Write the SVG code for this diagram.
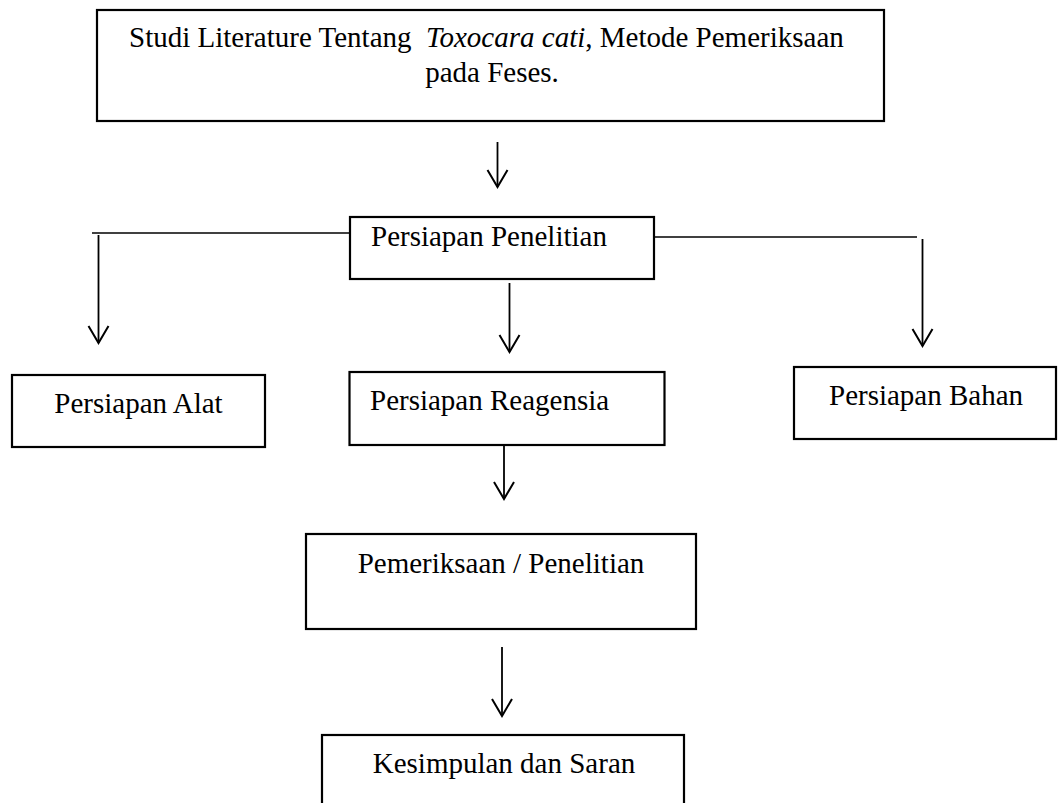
<svg xmlns="http://www.w3.org/2000/svg" width="1058" height="803" viewBox="0 0 1058 803">
  <style>
    .box { fill: #ffffff; stroke: #000000; stroke-width: 2.2; }
    .t { font-family: "Liberation Serif", "Times New Roman", serif; font-size: 29px; fill: #000000; }
    .arr { stroke: #000000; stroke-width: 1.8; fill: none; marker-end: url(#vhead); }
    .ln { stroke: #000000; stroke-width: 1.3; fill: none; }
  </style>
  <defs>
    <marker id="vhead" markerUnits="userSpaceOnUse" markerWidth="40" markerHeight="40" refX="0" refY="0" orient="auto" overflow="visible">
      <path d="M -17 -10 L 0 0 L -17 10" fill="none" stroke="#000000" stroke-width="2"/>
    </marker>
  </defs>
  <rect width="1058" height="803" fill="#ffffff"/>

  <g id="connectors">
    <line class="arr" x1="497.5" y1="142" x2="497.5" y2="187"/>
    <line class="ln" x1="92" y1="233" x2="358" y2="233"/>
    <line class="arr" x1="98.5" y1="235" x2="98.5" y2="343"/>
    <line class="arr" x1="509.5" y1="283" x2="509.5" y2="352"/>
    <line class="ln" x1="654" y1="237" x2="917" y2="237"/>
    <line class="arr" x1="922.5" y1="239" x2="922.5" y2="346"/>
    <line class="arr" x1="504" y1="445" x2="504" y2="499"/>
    <line class="arr" x1="502" y1="647" x2="502" y2="716"/>
  </g>

  <g id="node-studi">
    <rect class="box" x="97" y="10" width="787" height="111"/>
    <text class="t" x="129" y="47">Studi Literature Tentang &#160;<tspan font-style="italic">Toxocara cati</tspan>, Metode Pemeriksaan</text>
    <text class="t" x="492" y="82" text-anchor="middle">pada Feses.</text>
  </g>

  <g id="node-persiapan-penelitian">
    <rect class="box" x="350" y="217" width="304" height="62"/>
    <text class="t" x="371" y="246">Persiapan Penelitian</text>
  </g>

  <g id="node-persiapan-alat">
    <rect class="box" x="12" y="375" width="253" height="72"/>
    <text class="t" x="138.5" y="413" text-anchor="middle">Persiapan Alat</text>
  </g>

  <g id="node-persiapan-reagensia">
    <rect class="box" x="349.5" y="372" width="315" height="73"/>
    <text class="t" x="370" y="410">Persiapan Reagensia</text>
  </g>

  <g id="node-persiapan-bahan">
    <rect class="box" x="794" y="367" width="262" height="72"/>
    <text class="t" x="829" y="405">Persiapan Bahan</text>
  </g>

  <g id="node-pemeriksaan">
    <rect class="box" x="306" y="534" width="390" height="95"/>
    <text class="t" x="501" y="573" text-anchor="middle">Pemeriksaan / Penelitian</text>
  </g>

  <g id="node-kesimpulan">
    <rect class="box" x="322" y="735" width="362" height="100"/>
    <text class="t" x="504" y="773" text-anchor="middle">Kesimpulan dan Saran</text>
  </g>
</svg>
